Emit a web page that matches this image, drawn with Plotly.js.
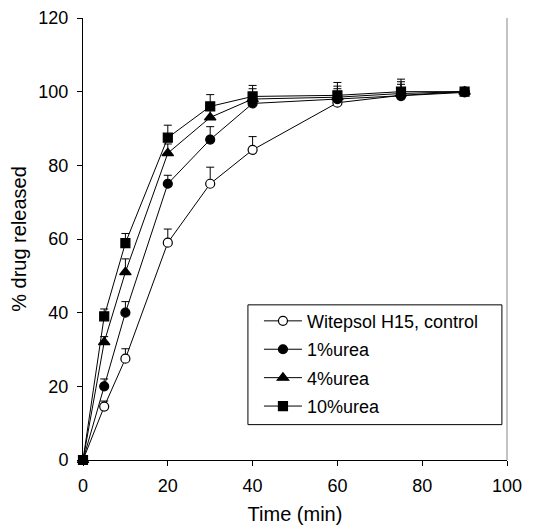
<!DOCTYPE html>
<html>
<head>
<meta charset="utf-8">
<script src="https://cdn.plot.ly/plotly-3.0.1.min.js"></script>
<style>html,body{margin:0;padding:0;background:#fff;}#chart{width:546px;height:529px;}</style>
</head>
<body>
<div id="chart"></div>
<script>
var time = [0, 5, 10, 20, 30, 40, 60, 75, 90];
var seriesNames = ["Witepsol H15, control", "1%urea", "4%urea", "10%urea"];
var control = [0, 14.5, 27.5, 59, 75, 84.2, 97, 99, 100];
var controlErr = [0, 1.5, 2.7, 3.7, 4.5, 3.6, 2, 2, 0.5];
var urea1 = [0, 20, 40, 75, 87, 96.8, 98, 98.8, 99.8];
var urea1Err = [0, 2, 3, 2.3, 3.5, 2.5, 2.8, 3.2, 0.5];
var urea4 = [0, 32, 51, 83.3, 93, 98, 98.5, 99.5, 100];
var urea4Err = [0, 1.5, 3.6, 2.5, 2.5, 2.8, 3, 3.2, 0.5];
var urea10 = [0, 39, 58.9, 87.5, 96, 98.7, 99, 100, 100];
var urea10Err = [0, 2, 2.6, 3.4, 3.2, 3, 3.5, 3.4, 0.5];
var xTicks = [0, 20, 40, 60, 80, 100];
var yTicks = [0, 20, 40, 60, 80, 100, 120];

var ys = [control, urea1, urea4, urea10];
var errs = [controlErr, urea1Err, urea4Err, urea10Err];
var symbols = ["circle", "circle", "triangle-up", "square"];
var sizes = [9, 9, 10, 9];

var traces = ys.map(function (y, i) {
  return {
    x: time, y: y, name: seriesNames[i], type: "scatter", mode: "lines+markers",
    line: {color: "#000", width: 1},
    marker: {symbol: symbols[i], size: sizes[i], color: i === 0 ? "#fff" : "#000",
             line: {color: "#000", width: 1.2}},
    error_y: {type: "data", array: errs[i], symmetric: false,
              arrayminus: errs[i].map(function () { return 0; }),
              color: "#000", thickness: 1, width: 4},
    cliponaxis: false,
    legendgroup: "g" + i
  };
});

var font = "Liberation Sans, Arial, sans-serif";
var layout = {
  width: 546, height: 529,
  margin: {l: 83, r: 39, t: 18, b: 69},
  paper_bgcolor: "#fff", plot_bgcolor: "#fff",
  font: {family: font, size: 18, color: "#000"},
  showlegend: true,
  legend: {x: 0.415, y: 0.356, xanchor: "left", yanchor: "top",
           borderwidth: 0, bgcolor: "rgba(0,0,0,0)",
           font: {family: font, size: 18, color: "#000"},
           tracegroupgap: 2, itemwidth: 38},
  xaxis: {range: [0, 100], tickvals: xTicks, ticktext: xTicks.map(String),
          ticks: "outside", ticklen: 5, tickcolor: "#000", showline: true,
          linecolor: "#000", linewidth: 1, showgrid: false, zeroline: false,
          tickfont: {size: 18}, ticklabelstandoff: 4,
          title: {text: "Time (min)", font: {size: 20}, standoff: 12}},
  yaxis: {range: [0, 120], tickvals: yTicks, ticktext: yTicks.map(String),
          ticks: "outside", ticklen: 5, tickcolor: "#000", showline: true,
          linecolor: "#000", linewidth: 1, showgrid: false, zeroline: false,
          tickfont: {size: 18}, ticklabelstandoff: 5,
          title: {text: "% drug released", font: {size: 20}, standoff: 6}},
  shapes: [
    {type: "line", xref: "paper", yref: "paper", x0: 1, x1: 1, y0: 0, y1: 1,
     line: {color: "#888", width: 1}},
    {type: "rect", xref: "paper", yref: "paper", x0: 0.389, x1: 0.988, y0: 0.080, y1: 0.351,
     fillcolor: "#fff", line: {color: "#000", width: 1}, layer: "above"}
  ]
};

Plotly.newPlot("chart", traces, layout, {displayModeBar: false, staticPlot: true});
</script>
</body>
</html>
